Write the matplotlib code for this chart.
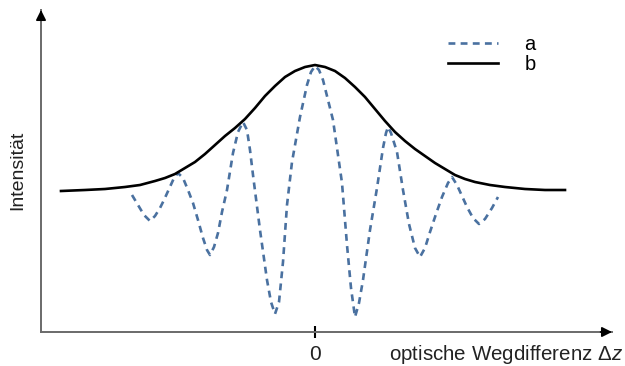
import matplotlib
matplotlib.use('Agg')
import matplotlib.pyplot as plt

plt.rcParams['font.family'] = ['Liberation Sans', 'DejaVu Sans']
plt.rcParams['mathtext.fontset'] = 'custom'
plt.rcParams['mathtext.rm'] = 'Liberation Sans'
plt.rcParams['mathtext.it'] = 'Liberation Sans:italic'

# Huellkurve b (Delta z, Intensitaet)
b_x = [-254, -230, -210, -190, -175, -160, -150, -140, -130, -120, -110, -100, -90,
       -80, -70, -60, -50, -40, -30, -20, -10, 0, 10, 20, 30, 40, 50, 60, 70, 80,
       90, 100, 110, 120, 130, 140, 150, 160, 175, 190, 210, 230, 250]
b_y = [141, 142, 143, 145, 147, 151, 154, 158, 164, 170, 178, 187, 196,
       204, 213, 224, 236, 246, 255, 261, 265, 267, 265, 261, 254, 245, 235, 223, 211, 200,
       191, 183, 176, 169, 163, 157, 153, 150, 147, 145, 143, 142, 142]

# Interferogramm a
a_x = [-183, -177, -171, -165, -160, -155, -151, -146, -141, -137, -132, -127, -122,
       -117, -112, -108, -105, -101, -97, -93, -88, -82, -77, -72, -68, -65, -62,
       -55, -48, -44, -40, -36, -32, -28, -23, -15, -8, -4, 0, 4, 8, 18, 27, 32,
       36, 40, 44, 48, 55, 62, 68, 71, 73, 76, 82, 88, 94, 100, 105, 110, 115,
       121, 127, 133, 137, 142, 147, 152, 158, 164, 170, 177, 183]
a_y = [137, 127, 117, 111, 116, 124, 132, 143, 154, 159, 154, 142, 129,
       112, 94, 82, 77, 85, 99, 120, 142, 179, 200, 210, 202, 182, 157,
       102, 52, 30, 18, 30, 70, 127, 170, 215, 247, 260, 266, 262, 252, 212, 149, 87,
       44, 15, 29, 52, 102, 144, 184, 199, 205, 199, 180, 142, 108, 84, 75, 84, 100,
       118, 135, 149, 155, 147, 136, 125, 114, 108, 113, 124, 135]

labels = ['a', 'b']
xticks = [0]
xtick_labels = ['0']

fig = plt.figure(figsize=(6.25, 3.66), dpi=100)
ax = fig.add_axes([41/625, 34/366, 571/625, 322/366])

la, = ax.plot(a_x, a_y, color='#4a71a0', lw=1.9, linestyle=(0, (2.6, 2.0)))
lb, = ax.plot(b_x, b_y, color='black', lw=1.9)

ax.set_xlim(-274, 297)
ax.set_ylim(0, 322)

for s in ['top', 'right']:
    ax.spines[s].set_visible(False)
for s in ['left', 'bottom']:
    ax.spines[s].set_color('#6a6a6a')
    ax.spines[s].set_linewidth(1.4)

# Pfeilspitzen
ax.annotate('', xy=(1, 0), xytext=(0.98, 0), xycoords='axes fraction',
            arrowprops=dict(arrowstyle='-|>', color='black', lw=1.2,
                            mutation_scale=15, shrinkA=0, shrinkB=0))
ax.annotate('', xy=(0, 1), xytext=(0, 0.97), xycoords='axes fraction',
            arrowprops=dict(arrowstyle='-|>', color='black', lw=1.2,
                            mutation_scale=15, shrinkA=0, shrinkB=0))

ax.set_xticks(xticks)
ax.set_xticklabels(xtick_labels, fontsize=15, color='#222222')
ax.tick_params(axis='x', direction='inout', length=9, width=1.5, color='black', pad=5)
ax.set_yticks([])

fig.text(623/625, 1 - 354/366, r'optische Wegdifferenz $\Delta z$', fontsize=14.8,
         ha='right', va='center', color='#222222')
fig.text(18/625, 1 - 170/366, 'Intensität', fontsize=14, rotation=90,
         ha='center', va='center', color='#222222')

ax.legend([la, lb], labels, loc='upper left', bbox_to_anchor=(438/625, 1 - 25/366),
          bbox_transform=fig.transFigure, frameon=False, fontsize=14.5,
          handlelength=2.5, handletextpad=1.3, labelspacing=0.05, borderpad=0)

fig.savefig('out.png', dpi=100)
